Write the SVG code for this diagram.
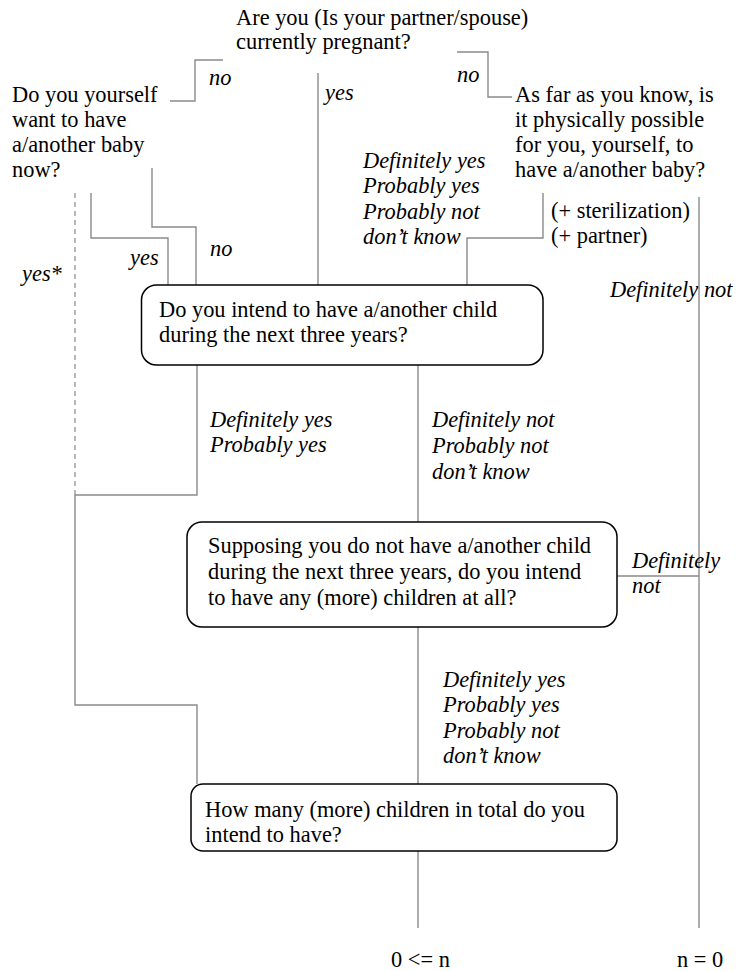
<svg xmlns="http://www.w3.org/2000/svg" width="736" height="971" viewBox="0 0 736 971">
<style>
text{font-family:"Liberation Serif","Times New Roman",serif;font-size:22.4px;fill:#000}
.i{font-style:italic}
.c{fill:none;stroke:#8a8a8a;stroke-width:1.4}
.d{fill:none;stroke:#9a9a9a;stroke-width:1.4;stroke-dasharray:5,4}
.b{fill:#fff;stroke:#000;stroke-width:1.5}
</style>
<rect width="736" height="971" fill="#fff"/>
<g id="connectors">
<path class="c" d="M223,60 H195 V101 H170"/>
<path class="c" d="M457,52 H488 V97 H512"/>
<path class="c" d="M318,73 V285"/>
<path class="c" d="M152,168 V227 H196 V285"/>
<path class="c" d="M91,193 V238 H168 V285"/>
<path class="c" d="M543,193 V238 H467 V285"/>
<path class="c" d="M699,197 V928"/>
<path class="d" d="M75,193 V495"/>
<path class="c" d="M197,365 V495 H75 V705 H197 V784"/>
<path class="c" d="M418,365 V522"/>
<path class="c" d="M617,576 H699"/>
<path class="c" d="M418,627 V784"/>
<path class="c" d="M418,851 V928"/>
</g>
<g id="q-pregnant">
<text x="236" y="25">Are you (Is your partner/spouse)</text>
<text x="236" y="49">currently pregnant?</text>
</g>
<g id="q-want">
<text x="12" y="102">Do you yourself</text>
<text x="12" y="127">want to have</text>
<text x="12" y="152">a/another baby</text>
<text x="12" y="177">now?</text>
</g>
<g id="q-possible">
<text x="515" y="102">As far as you know, is</text>
<text x="515" y="127">it physically possible</text>
<text x="515" y="152">for you, yourself, to</text>
<text x="515" y="177">have a/another baby?</text>
</g>
<g id="q-intend3">
<rect class="b" x="141.5" y="285" width="401.5" height="80" rx="15"/>
<text x="159" y="317">Do you intend to have a/another child</text>
<text x="159" y="342">during the next three years?</text>
</g>
<g id="q-intendany">
<rect class="b" x="187" y="522" width="430" height="105" rx="15"/>
<text x="208" y="553">Supposing you do not have a/another child</text>
<text x="208" y="579">during the next three years, do you intend</text>
<text x="208" y="605">to have any (more) children at all?</text>
</g>
<g id="q-howmany">
<rect class="b" x="191" y="784" width="426" height="67" rx="12"/>
<text x="205" y="817">How many (more) children in total do you</text>
<text x="205" y="842">intend to have?</text>
</g>
<g id="labels">
<text class="i" x="209" y="85">no</text>
<text class="i" x="325" y="100">yes</text>
<text class="i" x="457" y="82">no</text>
<text class="i" x="210" y="256">no</text>
<text class="i" x="130" y="265">yes</text>
<text class="i" x="22" y="281">yes*</text>
<text class="i" x="363" y="168">Definitely yes</text>
<text class="i" x="363" y="193">Probably yes</text>
<text class="i" x="363" y="219">Probably not</text>
<text class="i" x="363" y="244">don’t know</text>
<text x="551" y="218">(+ sterilization)</text>
<text x="551" y="243">(+ partner)</text>
<text class="i" x="610" y="297">Definitely not</text>
<text class="i" x="210" y="427">Definitely yes</text>
<text class="i" x="210" y="452">Probably yes</text>
<text class="i" x="432" y="427">Definitely not</text>
<text class="i" x="432" y="453">Probably not</text>
<text class="i" x="432" y="479">don’t know</text>
<text class="i" x="632" y="568">Definitely</text>
<text class="i" x="632" y="593">not</text>
<text class="i" x="443" y="687">Definitely yes</text>
<text class="i" x="443" y="712">Probably yes</text>
<text class="i" x="443" y="738">Probably not</text>
<text class="i" x="443" y="763">don’t know</text>
<text x="391" y="967">0 &lt;= n</text>
<text x="677" y="967">n = 0</text>
</g>
</svg>
